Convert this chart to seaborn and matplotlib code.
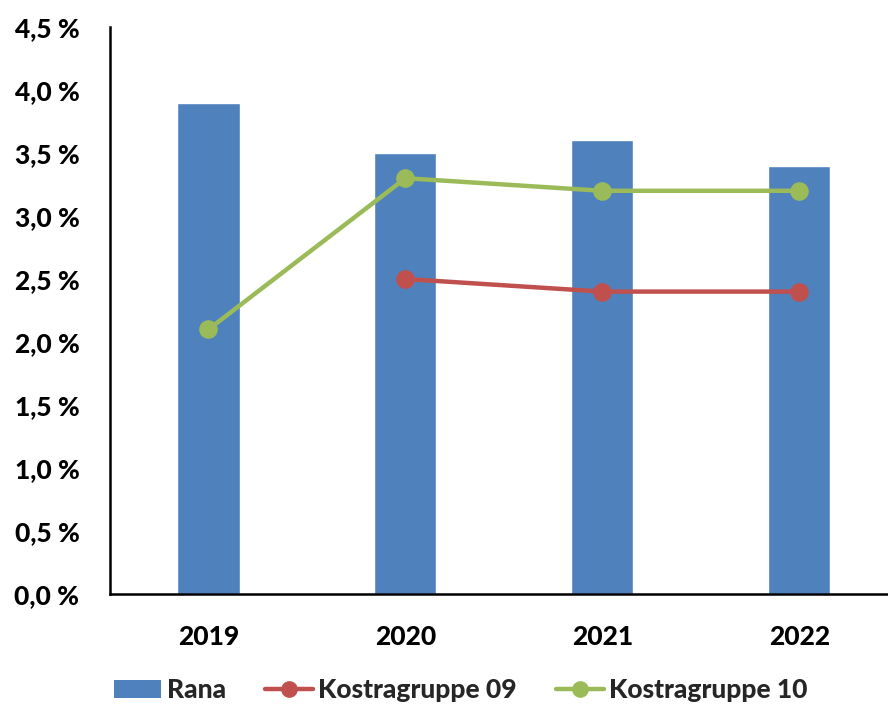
import matplotlib
matplotlib.use("Agg")
import matplotlib.pyplot as plt
import seaborn as sns
import pandas as pd
import numpy as np
from matplotlib.ticker import FuncFormatter
from matplotlib.lines import Line2D
from matplotlib.patches import Patch

years = ["2019", "2020", "2021", "2022"]
rana = [3.9, 3.5, 3.6, 3.4]
kostra09 = [np.nan, 2.5, 2.4, 2.4]
kostra10 = [2.1, 3.3, 3.2, 3.2]

blue = "#4F81BD"
red = "#C0504D"
green = "#9BBB59"

sns.set_theme(style="white")
plt.rcParams["font.family"] = ["Lato", "DejaVu Sans"]
plt.rcParams["font.weight"] = "black"

fig = plt.figure(figsize=(8.88, 7.06), dpi=100)
ax = fig.add_axes([110 / 888, (706 - 594) / 706, 1 - 110 / 888, (594 - 27) / 706])

df = pd.DataFrame({"year": years, "Rana": rana,
                   "Kostragruppe 09": kostra09, "Kostragruppe 10": kostra10})

sns.barplot(data=df, x="year", y="Rana", order=years, color=blue,
            width=0.315, saturation=1, ax=ax)
sns.pointplot(data=df, x="year", y="Kostragruppe 09", order=years, color=red,
              markers="o", markersize=11, linewidth=3.2, ax=ax)
sns.pointplot(data=df, x="year", y="Kostragruppe 10", order=years, color=green,
              markers="o", markersize=11, linewidth=3.2, ax=ax)

ax.set_xlim(-0.5, 3.45)
ax.set_ylim(0, 4.5)
ax.set_yticks(np.arange(0, 4.51, 0.5))
ax.yaxis.set_major_formatter(FuncFormatter(lambda v, p: f"{v:.1f} %".replace(".", ",")))
ax.set_xlabel("")
ax.set_ylabel("")
ax.tick_params(axis="both", length=0, labelsize=19)
ax.tick_params(axis="y", pad=22)
ax.tick_params(axis="x", pad=22)
for lbl in ax.get_xticklabels() + ax.get_yticklabels():
    lbl.set_fontweight("black")
    lbl.set_color("black")

for side in ["top", "right"]:
    ax.spines[side].set_visible(False)
for side in ["left", "bottom"]:
    ax.spines[side].set_color("black")
    ax.spines[side].set_linewidth(1.8)

handles = [
    Patch(facecolor=blue, edgecolor="none"),
    Line2D([0], [0], color=red, lw=3.2, marker="o", markersize=11),
    Line2D([0], [0], color=green, lw=3.2, marker="o", markersize=11),
]
labels = ["Rana", "Kostragruppe 09", "Kostragruppe 10"]
fig.legend(handles, labels, loc="center", bbox_to_anchor=(0.519, (706 - 690) / 706),
           ncol=3, frameon=False, handlelength=1.8, handletextpad=0.2,
           columnspacing=1.5, prop={"weight": "black", "size": 19})

fig.savefig("out.png", dpi=100)
